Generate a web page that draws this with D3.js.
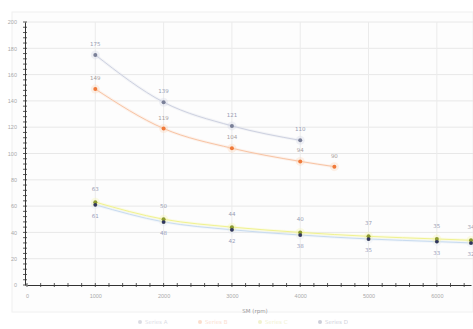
<!DOCTYPE html>
<html><head><meta charset="utf-8">
<script src="https://cdn.jsdelivr.net/npm/d3@7"></script>
<style>body{margin:0;background:#fff;}svg{display:block;font-family:"DejaVu Sans",sans-serif;}</style>
</head><body><svg id="c" width="473" height="329"></svg>
<script>
const xTicks = [0,1000,2000,3000,4000,5000,6000];
const yTicks = [0,20,40,60,80,100,120,140,160,180,200];
const s1x = [1000,2000,3000,4000];
const s1y = [175,139,121,110];
const s2x = [1000,2000,3000,4000,4500];
const s2y = [149,119,104,94,90];
const s3x = [1000,2000,3000,4000,5000,6000,6500];
const s3y = [63,50,44,40,37,35,34];
const s4x = [1000,2000,3000,4000,5000,6000,6500];
const s4y = [61,48,42,38,35,33,32];
const legendNames = ["Series A","Series B","Series C","Series D"];
const xTitle = "SM (rpm)";

const svg = d3.select("#c");
const x = d3.scaleLinear().domain([0,6500]).range([27,471]);
const y = d3.scaleLinear().domain([0,200]).range([285,22]);

svg.append("rect").attr("x",0).attr("y",0).attr("width",473).attr("height",329).attr("fill","#fff");
svg.append("rect").attr("x",12).attr("y",12).attr("width",461).attr("height",300).attr("fill","#fdfdfd").attr("stroke","#f0f0f0");

svg.append("g").selectAll("line").data(yTicks.slice(1)).join("line")
  .attr("x1",25).attr("x2",473).attr("y1",d=>y(d)).attr("y2",d=>y(d))
  .attr("stroke","#e8e8e8").attr("stroke-width",1);
svg.append("g").selectAll("line").data(xTicks.slice(1)).join("line")
  .attr("x1",d=>x(d)).attr("x2",d=>x(d)).attr("y1",22).attr("y2",285)
  .attr("stroke","#ebebeb").attr("stroke-width",1);

const xAxis = d3.axisBottom(x).tickValues(xTicks).tickSize(0).tickPadding(9).tickFormat(d3.format("d"));
const gx = svg.append("g").attr("transform","translate(0,285)").call(xAxis);
gx.select(".domain").attr("stroke","#333");
gx.selectAll("text").attr("fill","#aaa").attr("font-size",5.5);
const minorX = d3.range(0,6501,200);
svg.append("g").selectAll("line").data(minorX).join("line")
  .attr("x1",d=>x(d)).attr("x2",d=>x(d)).attr("y1",283).attr("y2",287).attr("stroke","#333").attr("stroke-width",0.8);

const yAxis = d3.axisLeft(y).tickValues(yTicks).tickSize(0).tickPadding(8);
const gy = svg.append("g").attr("transform","translate(25,0)").call(yAxis);
gy.select(".domain").attr("stroke","#333");
gy.selectAll("text").attr("fill","#aaa").attr("font-size",5.5);
const minorY = d3.range(0,201,4);
svg.append("g").selectAll("line").data(minorY).join("line")
  .attr("x1",23).attr("x2",27).attr("y1",d=>y(d)).attr("y2",d=>y(d)).attr("stroke","#333").attr("stroke-width",0.8);

svg.append("text").attr("x",255).attr("y",313).attr("text-anchor","middle")
  .attr("fill","#999").attr("font-size",5.5).text(xTitle);

const line = d3.line().x(d=>x(d[0])).y(d=>y(d[1])).curve(d3.curveMonotoneX);
function series(xs, ys, lineCol, glowCol, dotCol, dotGlow, labOff, labCol){
  const pts = xs.map((v,i)=>[v,ys[i]]);
  svg.append("path").attr("d",line(pts)).attr("fill","none").attr("stroke",glowCol).attr("stroke-width",3).attr("opacity",0.3);
  svg.append("path").attr("d",line(pts)).attr("fill","none").attr("stroke",lineCol).attr("stroke-width",1);
  const g = svg.append("g");
  g.selectAll("circle.g").data(pts).join("circle").attr("cx",d=>x(d[0])).attr("cy",d=>y(d[1])).attr("r",4.5).attr("fill",dotGlow).attr("opacity",0.3);
  g.selectAll("circle.d").data(pts).join("circle").attr("cx",d=>x(d[0])).attr("cy",d=>y(d[1])).attr("r",2).attr("fill",dotCol);
  g.selectAll("text").data(pts).join("text").attr("x",d=>x(d[0])).attr("y",d=>y(d[1])+labOff)
    .attr("text-anchor","middle").attr("font-size",5.5).attr("fill",labCol).text(d=>d[1]);
}
series(s1x,s1y,"#cdd1e0","#dde0ec","#7a8098","#cfd3e4",-9,"#9a9eb4");
series(s2x,s2y,"#f8c4a4","#fcdac6","#f07a3a","#fbcfb0",-9,"#a8a0a0");
series(s4x,s4y,"#c8dbf0","#dce8f6","#3a3f6a","#e2e8f4",13,"#9a9ebc");
series(s3x,s3y,"#f0f290","#f7f8b4","#8c9a30","#f5f6a4",-11,"#9a9eb4");
svg.append("g").selectAll("circle").data(s4x.map((v,i)=>[v,s4y[i]])).join("circle")
  .attr("cx",d=>x(d[0])).attr("cy",d=>y(d[1])).attr("r",1.7).attr("fill","#2f3560");

const lcol = ["#6f7590","#f07a3a","#c9cc40","#3a3f6a"];
const lg = svg.append("g").attr("opacity",0.25);
legendNames.forEach((n,i)=>{
  const lx = 140 + i*60;
  lg.append("circle").attr("cx",lx).attr("cy",322).attr("r",2).attr("fill",lcol[i]);
  lg.append("text").attr("x",lx+5).attr("y",324).attr("font-size",5.5).attr("fill",lcol[i]).text(n);
});
</script></body></html>
